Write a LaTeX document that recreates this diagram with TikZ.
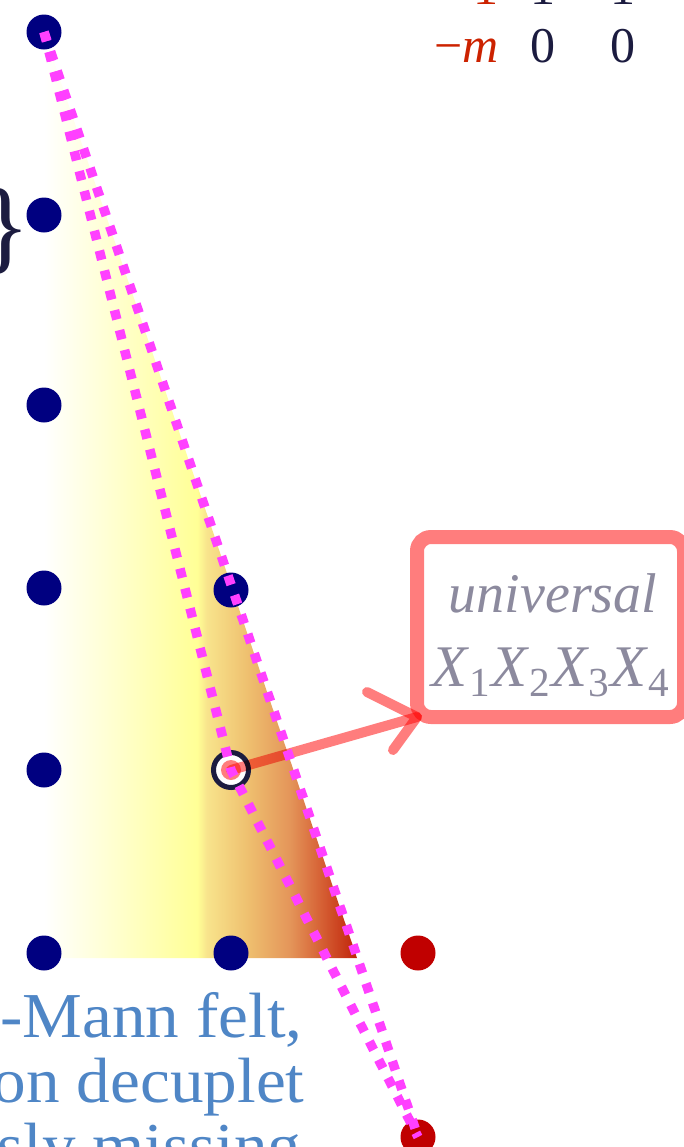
\documentclass[tikz,border=0pt]{standalone}
\usepackage{fontspec}
\setmainfont{Liberation Serif}
\newfontfamily\remarkfont[FakeStretch=1.05]{Liberation Serif}
\usetikzlibrary{calc}

\definecolor{dotblue}{RGB}{0,0,128}
\definecolor{dotred}{RGB}{192,0,0}
\definecolor{trackpink}{RGB}{255,64,255}
\definecolor{notepink}{RGB}{255,125,125}
\definecolor{inkdark}{RGB}{28,28,64}
\definecolor{notegray}{RGB}{140,138,158}
\definecolor{remarkblue}{RGB}{79,134,198}
\definecolor{minusred}{RGB}{204,34,0}
\definecolor{wedgeA}{RGB}{255,255,150}
\definecolor{wedgeB}{RGB}{248,228,140}
\definecolor{wedgeC}{RGB}{238,190,110}
\definecolor{wedgeD}{RGB}{228,150,90}
\definecolor{wedgeE}{RGB}{215,100,55}
\definecolor{wedgeF}{RGB}{192,35,10}

\pgfdeclarehorizontalshading{wedge}{100bp}{color(0bp)=(white); color(25bp)=(white);
  color(49.5bp)=(wedgeA); color(51bp)=(wedgeB); color(57.8bp)=(wedgeC);
  color(64.2bp)=(wedgeD); color(68.9bp)=(wedgeE); color(75bp)=(wedgeF); color(100bp)=(wedgeF)}

\begin{document}
\begin{tikzpicture}[
  x=0.5pt, y=-0.5pt,
  dot/.style={circle,inner sep=0pt,minimum size=17.5pt},
  hole/.style={circle,draw=inkdark,fill=white,line width=2.5pt,inner sep=0pt,minimum size=17.5pt},
  track/.style={trackpink,line width=4.75pt,dash pattern=on 4.75pt off 5.5pt},
  notepen/.style={notepink,line width=5pt,line cap=round,line join=round},
  notebox/.style={draw=notepink,line width=7pt,rounded corners=7pt,outer sep=0pt,inner sep=0pt},
  lbl/.style={inner sep=0pt},
  sublbl/.style={inner sep=0pt,text=notegray}
]
\useasboundingbox (0,0) rectangle (684,1147);
\clip (0,0) rectangle (684,1147);

% ---- shaded wedge under the lattice ----
\shade[shading=wedge] (44,32) -- (357,958) -- (44,958) -- cycle;

% ---- lattice points ----
\foreach \n/\y in {0/32,1/215,2/405,3/588,4/770,5/953}
  \node[dot,fill=dotblue] (a\n) at (44,\y) {};
\node[dot,fill=dotblue] (b3) at (231,590) {};
\node[dot,fill=dotblue] (b5) at (231,953) {};
\node[hole] (b4) at (231,770) {};
\node[dot,fill=dotred] (c5) at (418,953) {};
\node[dot,fill=dotred] (c6) at (418,1137) {};

% ---- note box and its arrow ----
\node[notebox,minimum width=133.5pt,minimum height=90pt] (note) at (550.5,627) {};
\node[sublbl,anchor=base,font=\fontsize{28}{30}\selectfont\itshape] (univ) at (553,612) {universal};
\node[sublbl,anchor=base,font=\fontsize{29.5}{33}\selectfont] (xprod) at (551,686)
  {\textit{X}\textsubscript{1}\textit{X}\textsubscript{2}\textit{X}\textsubscript{3}\textit{X}\textsubscript{4}};

\coordinate (armup) at (367,692);
\coordinate (armdn) at (393,750);
\begin{scope}[blend mode=multiply]
  \fill[notepink] (b4.center) circle (5pt);
  \draw[notepen] (b4.center) -- (note.south west);
  \draw[notepen] (armup) -- (note.south west) -- (armdn);
\end{scope}

% ---- dotted trajectories ----
\draw[track] (a0.center) -- (c6.center);
\draw[track] (a0.center) -- (b4.center) -- (c6.center);

% ---- labels ----
\node[lbl,anchor=base east,text=inkdark,font=\fontsize{52}{54}\selectfont] (brace) at (31,260) {\}};

\node[lbl,anchor=base,text=minusred,font=\fontsize{25}{29}\selectfont] (tr1) at (486,4) {1};
\node[lbl,anchor=base,text=inkdark,font=\fontsize{25}{29}\selectfont] (tr2) at (543,4) {1};
\node[lbl,anchor=base,text=inkdark,font=\fontsize{25}{29}\selectfont] (tr3) at (623,4) {1};
\node[lbl,anchor=base east,text=minusred,font=\fontsize{25}{29}\selectfont] (mr1) at (499,62) {−\textit{m}};
\node[lbl,anchor=base,text=inkdark,font=\fontsize{25}{29}\selectfont] (mr2) at (543,62) {0};
\node[lbl,anchor=base,text=inkdark,font=\fontsize{25}{29}\selectfont] (mr3) at (623,62) {0};

\node[lbl,anchor=base east,text=remarkblue,font=\remarkfont\fontsize{32}{33}\selectfont] (rem1) at (303,1037) {-Mann felt,};
\node[lbl,anchor=base east,text=remarkblue,font=\remarkfont\fontsize{32}{33}\selectfont] (rem2) at (305,1102) {on decuplet};
\node[lbl,anchor=base east,text=remarkblue,font=\remarkfont\fontsize{32}{33}\selectfont] (rem3) at (302,1167) {sly missing};

\end{tikzpicture}
\end{document}
